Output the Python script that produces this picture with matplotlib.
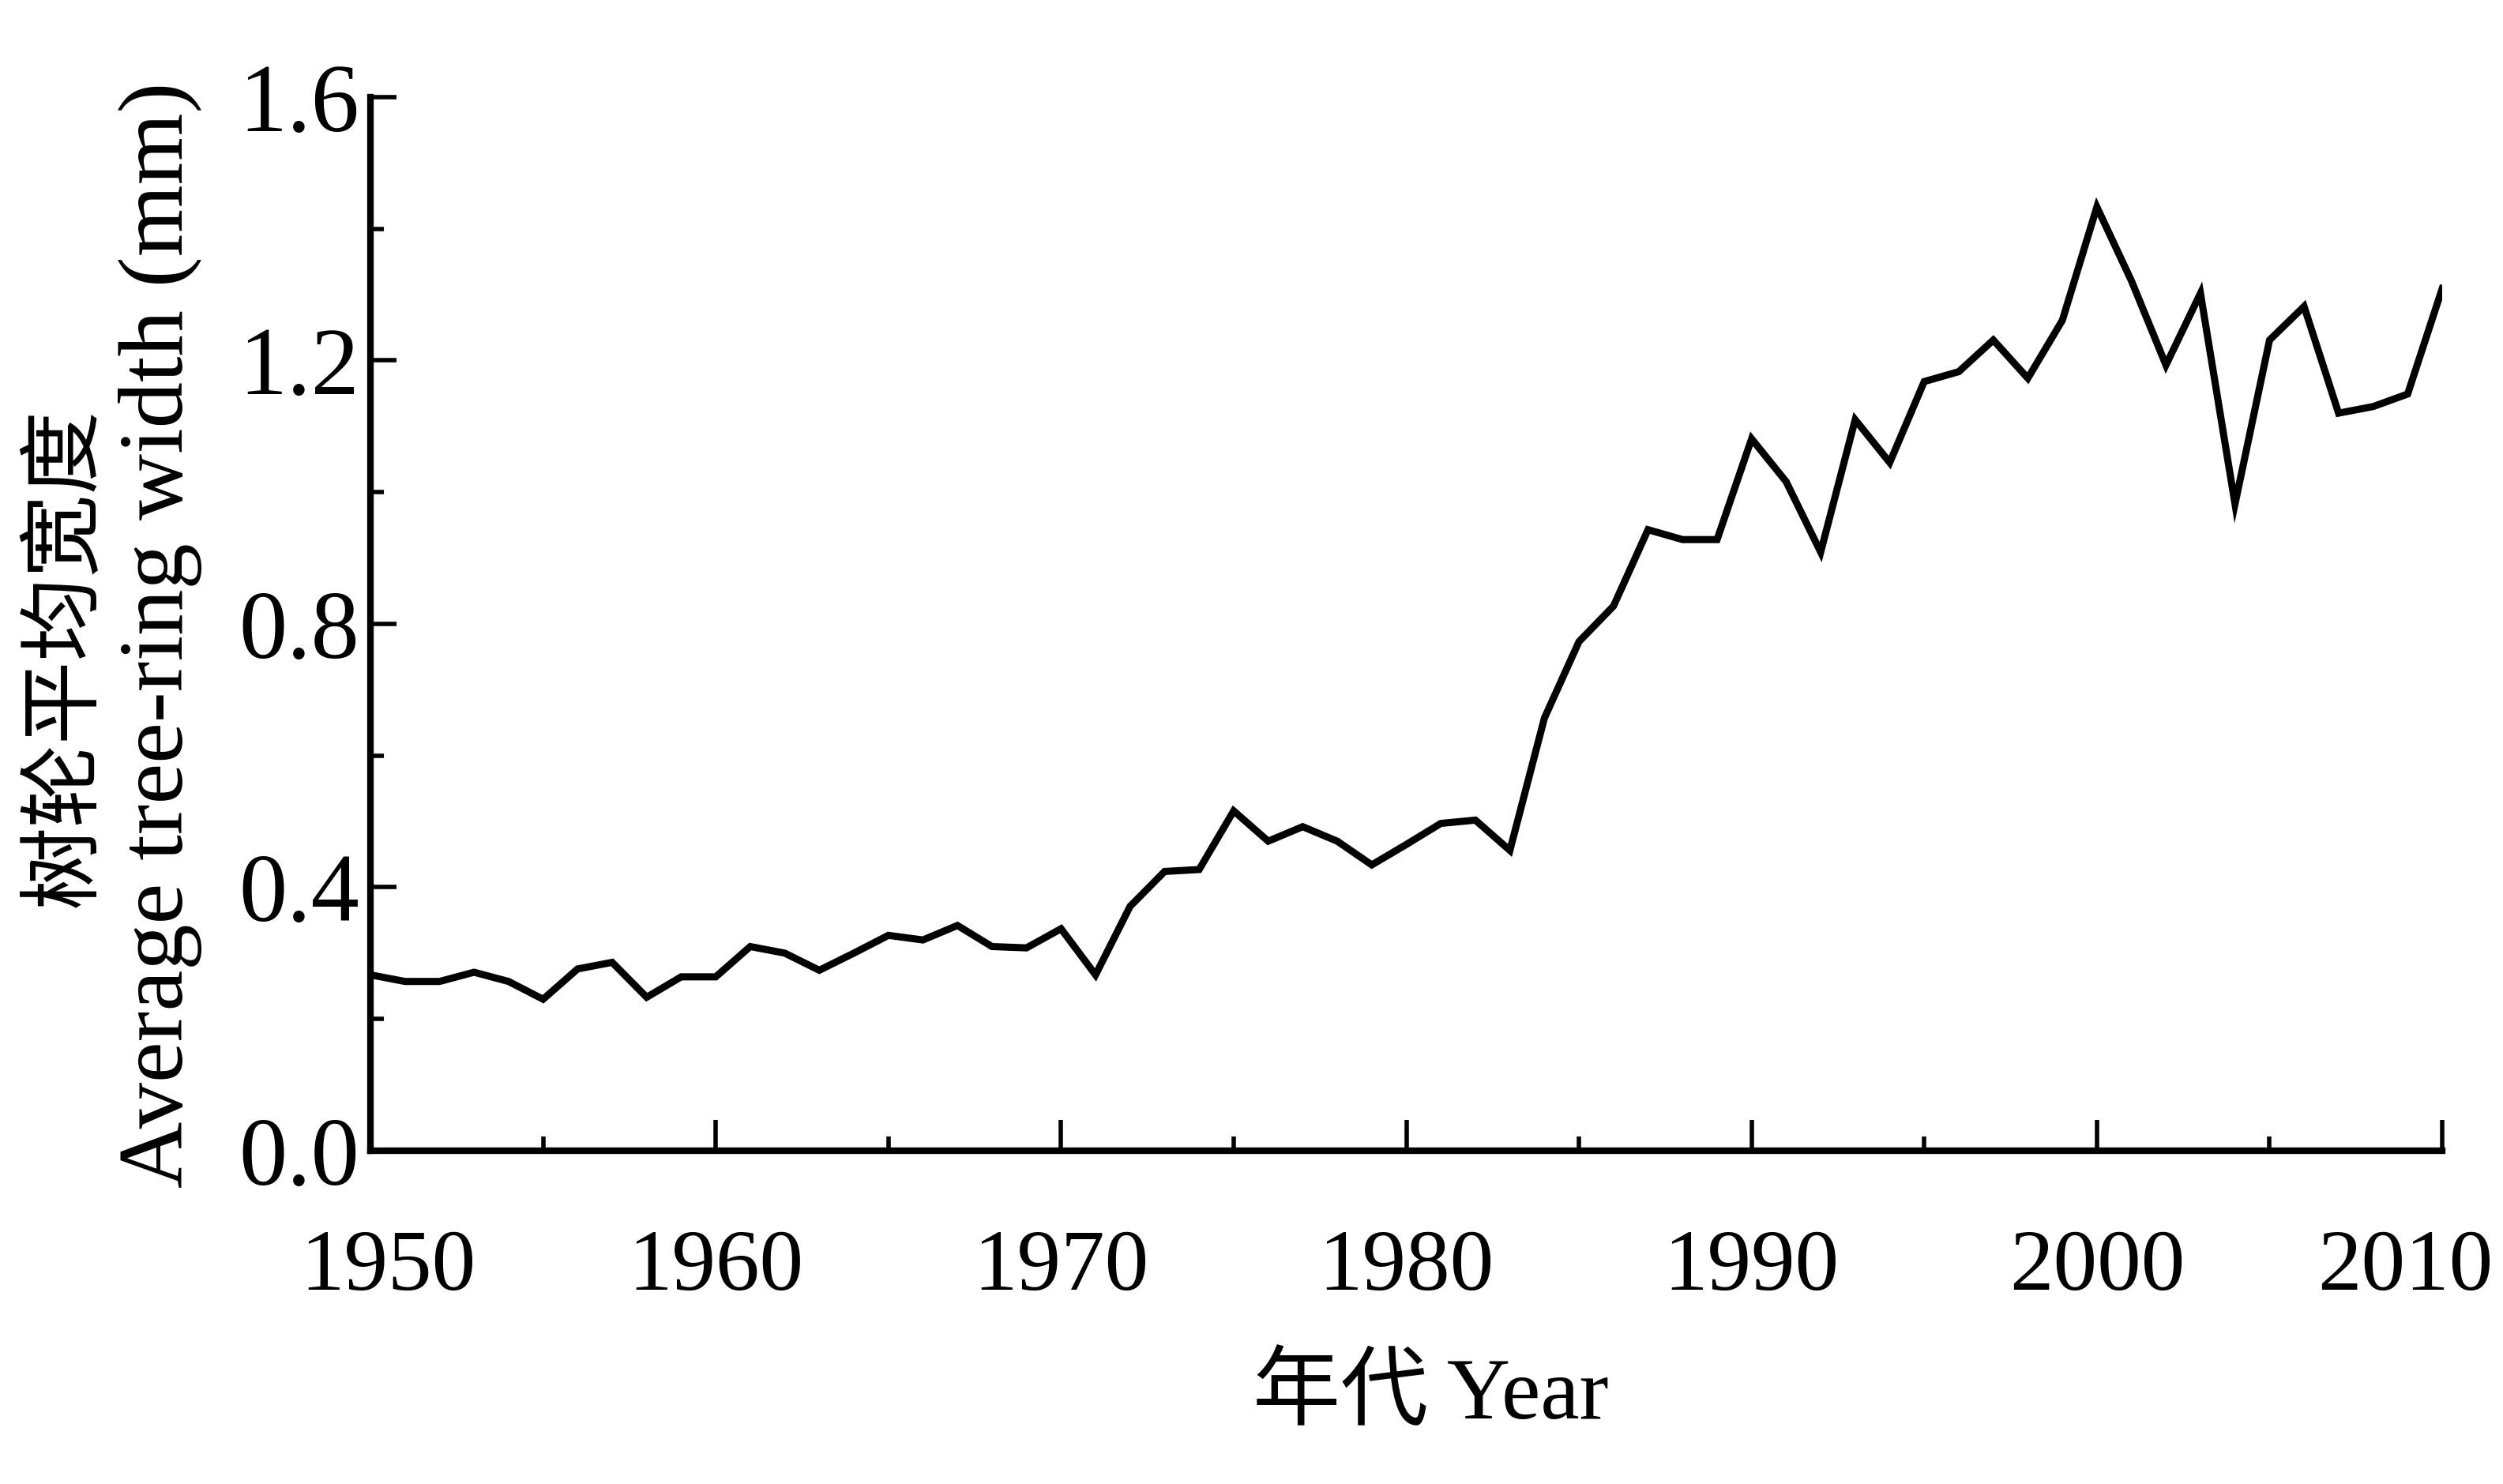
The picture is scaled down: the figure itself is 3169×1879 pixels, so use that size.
import matplotlib
matplotlib.use("Agg")
import matplotlib.pyplot as plt
import matplotlib.transforms as mtransforms
from matplotlib.ticker import MultipleLocator

plt.rcParams['font.family'] = ['Liberation Serif', 'Noto Sans CJK SC']

# average tree-ring width, one value per year
years = list(range(1950, 2011))
ring_width = [
    0.267, 0.257, 0.257, 0.271, 0.257, 0.230, 0.276, 0.286, 0.233, 0.264,
    0.264, 0.310, 0.300, 0.274, 0.300, 0.327, 0.320, 0.342, 0.310, 0.308,
    0.337, 0.267, 0.371, 0.424, 0.427, 0.516, 0.470, 0.492, 0.470, 0.434,
    0.465, 0.497, 0.502, 0.456, 0.657, 0.773, 0.827, 0.943, 0.928, 0.928,
    1.081, 1.016, 0.909, 1.110, 1.045, 1.168, 1.183, 1.231, 1.173, 1.261,
    1.433, 1.321, 1.193, 1.302, 0.982, 1.231, 1.282, 1.120, 1.130, 1.149,
    1.309,
]
x_ticks = [1950, 1960, 1970, 1980, 1990, 2000, 2010]
y_ticks = [0.0, 0.4, 0.8, 1.2, 1.6]

fig = plt.figure(figsize=(31.69, 18.79), dpi=100)
ax = fig.add_axes([0.148, 0.2246, 0.8277, 0.71])

ax.plot(years, ring_width, color='black', linewidth=6.5, solid_joinstyle='miter')

ax.set_xlim(1950, 2010)
ax.set_ylim(0, 1.6)
ax.set_xticks(x_ticks)
ax.set_yticks(y_ticks)
ax.set_yticklabels(['%.1f' % v for v in y_ticks])
ax.xaxis.set_minor_locator(MultipleLocator(5))
ax.yaxis.set_minor_locator(MultipleLocator(0.2))

for side in ['top', 'right']:
    ax.spines[side].set_visible(False)
for side in ['left', 'bottom']:
    ax.spines[side].set_linewidth(6)

ax.tick_params(axis='x', which='major', direction='in', length=28, width=4,
               pad=72, labelsize=80)
ax.tick_params(axis='x', which='minor', direction='in', length=13, width=4)
ax.tick_params(axis='y', which='major', direction='in', length=24, width=4,
               pad=10, labelsize=88)
ax.tick_params(axis='y', which='minor', direction='in', length=12, width=4)

# the end labels sit a little inward, as in the original
labels = ax.get_xticklabels()
labels[0].set_transform(labels[0].get_transform() +
                        mtransforms.ScaledTranslation(0.22, 0, fig.dpi_scale_trans))
labels[-1].set_transform(labels[-1].get_transform() +
                         mtransforms.ScaledTranslation(-0.47, 0, fig.dpi_scale_trans))

# axis titles
fig.text(0.0256, 0.557, '树轮平均宽度', rotation=90, ha='center', va='center',
         fontsize=76, family=['Noto Sans CJK SC'])
fig.text(0.064, 0.572, 'Average tree-ring width (mm)', rotation=90,
         ha='center', va='center', fontsize=84)
fig.text(0.5715, 0.059, '年代 Year', ha='center', va='center', fontsize=80)

fig.savefig('out.png', dpi=100, facecolor='white')
plt.close(fig)
